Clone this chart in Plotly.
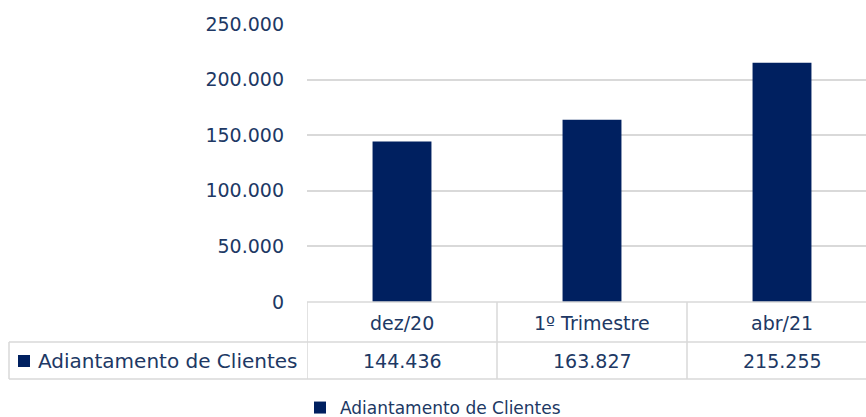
import plotly.graph_objects as go

categories = ["dez/20", "1º Trimestre", "abr/21"]
values = [144436, 163827, 215255]
series_name = "Adiantamento de Clientes"
y_ticks = [0, 50000, 100000, 150000, 200000, 250000]

W, H = 866, 417
BAR = "#002060"
TXT = "#203864"
GRID = "#D9D9D9"
FONT = "DejaVu Sans"

def py(ypx):
    return (H - ypx) / H

def px_(xpx):
    return xpx / W

def fmt(v):
    return f"{v:,}".replace(",", ".")

x_left, col_w = 307, 190
fig = go.Figure()
fig.add_trace(go.Bar(
    x=categories, y=values, name=series_name,
    marker=dict(color=BAR, line=dict(width=0)),
    width=0.31, showlegend=True,
))

fig.update_layout(
    width=W, height=H,
    margin=dict(l=0, r=0, t=0, b=0, autoexpand=False),
    paper_bgcolor="white", plot_bgcolor="white",
    separators=",.",
    font=dict(family=FONT, color=TXT),
    xaxis=dict(
        domain=[px_(x_left), 1],
        range=[-0.5, -0.5 + (W - x_left) / col_w],
        showticklabels=False, showgrid=False, zeroline=False, showline=False,
        ticks="", automargin=False,
    ),
    yaxis=dict(
        domain=[py(302), py(24)],
        range=[0, 250000],
        tickvals=y_ticks,
        ticktext=[fmt(v) for v in y_ticks],
        tickfont=dict(family=FONT, size=19, color=TXT),
        showgrid=True, gridcolor=GRID, gridwidth=1.5,
        zeroline=False, showline=False, ticks="",
        ticklabelstandoff=22, automargin=False,
    ),
    showlegend=True,
    legend=dict(
        orientation="h", x=0.5, xanchor="center", y=py(408), yanchor="middle",
        font=dict(family=FONT, size=17, color=TXT),
        bgcolor="rgba(0,0,0,0)", itemwidth=30,
    ),
)

# data table borders
line = dict(color=GRID, width=1.5)
shapes = []
y_top, y_mid, y_bot = 302, 342, 379
shapes.append(dict(type="line", xref="paper", yref="paper",
                   x0=px_(x_left), x1=1, y0=py(y_top), y1=py(y_top), line=line))
for yy in (y_mid, y_bot):
    shapes.append(dict(type="line", xref="paper", yref="paper",
                       x0=px_(9), x1=1, y0=py(yy), y1=py(yy), line=line))
for i in range(len(categories)):
    shapes.append(dict(type="line", xref="x", yref="paper",
                       x0=i - 0.5, x1=i - 0.5, y0=py(y_top), y1=py(y_bot), line=line))
shapes.append(dict(type="line", xref="paper", yref="paper",
                   x0=px_(9), x1=px_(9), y0=py(y_mid), y1=py(y_bot), line=line))
# legend key square in table row
shapes.append(dict(type="rect", xref="paper", yref="paper",
                   x0=px_(18), x1=px_(30), y0=py(367), y1=py(355),
                   fillcolor=BAR, line=dict(width=0)))
fig.update_layout(shapes=shapes)

ann = []
for c, v in zip(categories, values):
    ann.append(dict(x=c, xref="x", y=py(323), yref="paper", text=c, showarrow=False,
                    font=dict(family=FONT, size=19, color=TXT), xanchor="center", yanchor="middle"))
    ann.append(dict(x=c, xref="x", y=py(361), yref="paper", text=fmt(v), showarrow=False,
                    font=dict(family=FONT, size=19, color=TXT), xanchor="center", yanchor="middle"))
ann.append(dict(x=px_(36), xref="paper", y=py(361), yref="paper", text=series_name,
                showarrow=False, font=dict(family=FONT, size=20, color=TXT),
                xanchor="left", yanchor="middle"))
fig.update_layout(annotations=ann)

fig.write_html(
    "out.html",
    config={"displayModeBar": False},
    post_script="document.body.style.margin='0';document.body.style.overflow='hidden';",
)
